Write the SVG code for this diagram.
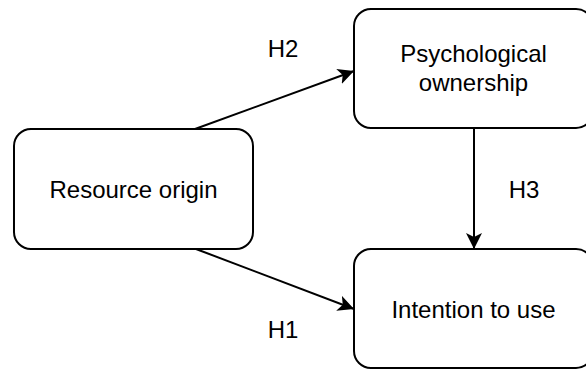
<svg xmlns="http://www.w3.org/2000/svg" width="586" height="372" viewBox="0 0 586 372">
  <style>
    .box { fill: #ffffff; stroke: #000000; stroke-width: 2; }
    .label { font-family: "Liberation Sans", Arial, sans-serif; font-size: 24px; fill: #000000; text-anchor: middle; }
    .edge { stroke: #000000; stroke-width: 2; fill: none; }
  </style>
  <defs>
    <marker id="arrow" markerUnits="userSpaceOnUse" markerWidth="18" markerHeight="18" refX="16" refY="8" orient="auto">
      <path d="M0,0 L16,8 L0,16 L4,8 Z" fill="#000000"/>
    </marker>
  </defs>
  <rect width="586" height="372" fill="#ffffff"/>
  <g id="connectors">
    <line class="edge" x1="195" y1="129" x2="354" y2="71" marker-end="url(#arrow)"/>
    <line class="edge" x1="196" y1="249" x2="354" y2="309" marker-end="url(#arrow)"/>
    <line class="edge" x1="474" y1="128" x2="474" y2="249" marker-end="url(#arrow)"/>
    <text class="label" x="283" y="57">H2</text>
    <text class="label" x="283" y="338">H1</text>
    <text class="label" x="524" y="198">H3</text>
  </g>
  <g id="resource-origin">
    <rect class="box" x="14" y="129" width="239" height="120" rx="17" ry="17"/>
    <text class="label" x="133.5" y="198">Resource origin</text>
  </g>
  <g id="psychological-ownership">
    <rect class="box" x="354" y="9" width="239" height="119" rx="17" ry="17"/>
    <text class="label" x="473.5" y="62">Psychological</text>
    <text class="label" x="473.5" y="91">ownership</text>
  </g>
  <g id="intention-to-use">
    <rect class="box" x="354" y="249" width="239" height="119" rx="17" ry="17"/>
    <text class="label" x="473.5" y="318">Intention to use</text>
  </g>
</svg>
